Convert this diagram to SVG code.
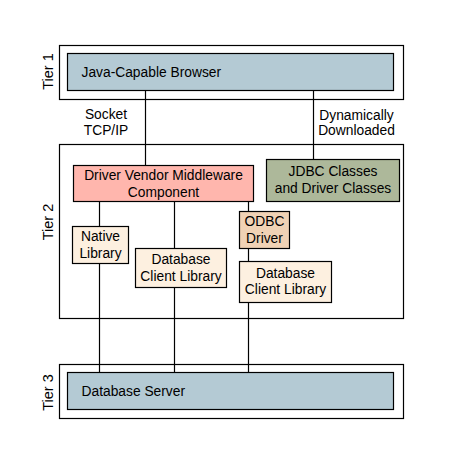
<svg xmlns="http://www.w3.org/2000/svg" width="452" height="476" viewBox="0 0 452 476">
<style>
text{font-family:"Liberation Sans",Arial,sans-serif;font-size:13.8px;fill:#000}
.c{text-anchor:middle}
.t{font-size:14.5px}
.box{stroke:#000;stroke-width:1.2}
.tier{fill:#fff;stroke:#000;stroke-width:1.2}
.srv{fill:#b4cad4}
.lib{fill:#fdf0e0}
line{stroke:#000;stroke-width:1.2}
</style>
<rect width="452" height="476" fill="#fff"/>
<g id="tier1">
<rect class="tier" x="59.5" y="45.5" width="344" height="54"/>
<text class="c t" transform="translate(52.5,71.5) rotate(-90)">Tier 1</text>
</g>
<g id="tier2">
<rect class="tier" x="59.5" y="144.5" width="344" height="174"/>
<text class="c t" transform="translate(52.5,222) rotate(-90)">Tier 2</text>
</g>
<g id="tier3">
<rect class="tier" x="59.5" y="364.5" width="344" height="54"/>
<text class="c t" transform="translate(52.5,392.5) rotate(-90)">Tier 3</text>
</g>
<g id="connectors">
<line x1="145.5" y1="90" x2="145.5" y2="165"/>
<line x1="313.5" y1="90" x2="313.5" y2="159"/>
<line x1="99.5" y1="201" x2="99.5" y2="372"/>
<line x1="174.5" y1="201" x2="174.5" y2="372"/>
<line x1="248.5" y1="201" x2="248.5" y2="372"/>
<text class="c" x="106" y="118.5">Socket</text>
<text class="c" x="106" y="135">TCP/IP</text>
<text class="c" x="356.5" y="119.5">Dynamically</text>
<text class="c" x="356.5" y="135">Downloaded</text>
</g>
<g id="browser">
<rect class="box srv" x="67.5" y="53.5" width="326" height="37"/>
<text x="81.5" y="76.5">Java-Capable Browser</text>
</g>
<g id="middleware">
<rect class="box" fill="#ffb6ad" x="73.5" y="165.5" width="180" height="36"/>
<text class="c" x="163.5" y="180">Driver Vendor Middleware</text>
<text class="c" x="163.5" y="196.5">Component</text>
</g>
<g id="jdbc">
<rect class="box" fill="#adb89a" x="266.5" y="159.5" width="133" height="42"/>
<text class="c" x="333" y="176">JDBC Classes</text>
<text class="c" x="333" y="192.5">and Driver Classes</text>
</g>
<g id="native">
<rect class="box lib" x="72.5" y="226.5" width="56" height="37"/>
<text class="c" x="100.5" y="241">Native</text>
<text class="c" x="100.5" y="257.5">Library</text>
</g>
<g id="dbclient1">
<rect class="box lib" x="135.5" y="248.5" width="91" height="39"/>
<text class="c" x="181" y="264">Database</text>
<text class="c" x="181" y="280.5">Client Library</text>
</g>
<g id="odbc">
<rect class="box" fill="#f0d2b5" x="239.5" y="211.5" width="50" height="37"/>
<text class="c" x="264.5" y="226">ODBC</text>
<text class="c" x="264.5" y="243">Driver</text>
</g>
<g id="dbclient2">
<rect class="box lib" x="239.5" y="261.5" width="92" height="41"/>
<text class="c" x="285.5" y="277.5">Database</text>
<text class="c" x="285.5" y="294">Client Library</text>
</g>
<g id="dbserver">
<rect class="box srv" x="67.5" y="372.5" width="326" height="37"/>
<text x="81.5" y="396">Database Server</text>
</g>
</svg>
